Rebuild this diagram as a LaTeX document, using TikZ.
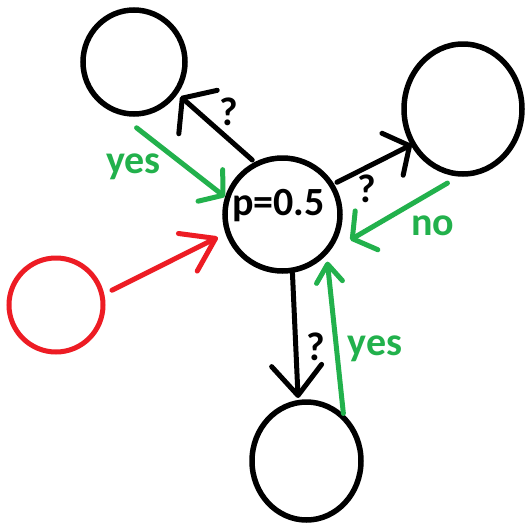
\documentclass[tikz,border=0pt]{standalone}
\usepackage{fontspec}
\setmainfont{Carlito}
\usetikzlibrary{arrows.meta,shapes.geometric}
\definecolor{pgreen}{RGB}{34,177,76}
\definecolor{pred}{RGB}{237,28,36}
\begin{document}
\begin{tikzpicture}[x=1pt,y=-1pt,
  circ/.style 2 args={ellipse, draw, line width=5.5pt, inner sep=0pt, outer sep=0pt,
    minimum width=#1pt, minimum height=#2pt},
  arr/.style 2 args={line width=5pt, line cap=round, line join=round,
    -{Straight Barb[length=#1pt,width=#2pt,round]}},
  lbl/.style={font=\fontsize{40}{48}\selectfont\bfseries, inner sep=0pt, anchor=base}]
\path[fill=white, use as bounding box] (0,0) rectangle (525,525);
% nodes
\node[circ={102}{104}] (TL) at (134,62) {};
\node[circ={118}{130}] (TR) at (463,109) {};
\node[circ={115}{113}] (C) at (282.5,214.5) {};
\node[circ={109}{118}] (B) at (306.5,461) {};
\node[circ={94}{94}, draw=pred, line width=5pt] (R) at (56,305) {};
% center text
\node[lbl] (p) at (278.5,215.5) {p=0.5};
% connectors
\draw[arr={21}{58}, shorten <=6pt, shorten >=6.5pt] (C.117.2) -- (TL.-36.8);
\draw[arr={16}{40}, pgreen, shorten <=30pt, shorten >=3pt] (TL.246.7) -- (C.164);
\draw[arr={19}{47}, shorten <=6pt, shorten >=1.6pt] (C.31.3) -- (TR.215.4);
\draw[arr={16.5}{45}, pgreen, shorten <=18pt, shorten >=36pt] (TR.270.4) -- (C.-50);
\draw[arr={30}{50}, shorten <=3pt, shorten >=4.7pt] (C.-80.2) -- (B.98.1);
\draw[arr={18}{26}, pgreen, shorten <=4.6pt, shorten >=10.5pt] (B.49.5) -- (C.-40.5);
\draw[arr={31}{42}, pred, shorten <=11.2pt, shorten >=11.3pt] (R.12.4) -- (C.198.8);
% labels
\node[lbl] (q1) at (229,125) {?};
\node[lbl] (q2) at (367,202) {?};
\node[lbl] (q3) at (316,360) {?};
\node[lbl, text=pgreen] (y1) at (133.5,173) {yes};
\node[lbl, text=pgreen] (n1) at (432.5,235) {no};
\node[lbl, text=pgreen] (y2) at (375,355) {yes};
\end{tikzpicture}
\end{document}
